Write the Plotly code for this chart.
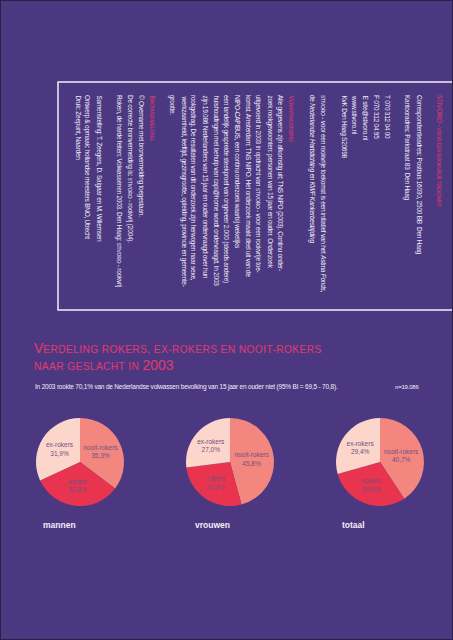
import plotly.graph_objects as go

# ---- data ----
categories = ["nooit-rokers", "rokers", "ex-rokers"]
mannen = [35.3, 32.8, 31.9]
vrouwen = [45.8, 27.2, 27.0]
totaal = [40.7, 29.9, 29.4]
group_names = ["mannen", "vrouwen", "totaal"]
slice_colors = ["#f3877f", "#e8344f", "#fcd6cb"]

W, H = 453, 640
BG = "#4c3881"
PINK = "#e3396e"
TXT = "#f3ecf7"
FONT = "Liberation Sans, Arial, sans-serif"


def px(x):
    return x / W


def py(y):
    return 1 - y / H


def sc(s, size):
    return '<span style="font-size:%spx">%s</span>' % (size, s)


def tight(s, ls=-0.25):
    return '<span style="letter-spacing:%spx">%s</span>' % (ls, s)


fig = go.Figure()

series = [mannen, vrouwen, totaal]
centers = [80, 230, 380]
cy, r = 462, 44
for name, vals, cx in zip(group_names, series, centers):
    fig.add_trace(go.Pie(
        labels=categories, values=vals, sort=False, direction="clockwise",
        rotation=0,
        marker=dict(colors=slice_colors, line=dict(width=0)),
        texttemplate="%{label}<br>%{value:.1f}%",
        textposition="inside", insidetextorientation="horizontal",
        textfont=dict(size=6.5, color="#6f527f", family=FONT),
        domain=dict(x=[px(cx - r), px(cx + r)], y=[py(cy + r), py(cy - r)]),
        showlegend=False, hoverinfo="label+percent", name=name,
    ))

ann = []
S = 5
lines = [
    (439, "STIVORO - " + sc("VOOR EEN ROOKVRIJE TOEKOMST", S), PINK),
    (419, "Correspondentieadres: Postbus 16030, 2500 BB  Den Haag", TXT),
    (407, "Kantooradres: Parkstraat 83  Den Haag", TXT),
    (387, "T 070 312 04 00", TXT),
    (376, "F 070 312 04 95", TXT),
    (365, "E site@stivoro.nl", TXT),
    (354, "www.stivoro.nl", TXT),
    (343, "KvK Den Haag S20698", TXT),
    (323, sc("STIVORO", S) + " - voor een rookvrije toekomst is een initiatief van het <i>Astma Fonds</i>,", TXT),
    (312, "de <i>Nederlandse Hartstichting</i> en <i>KWF Kankerbestrijding</i>", TXT),
    (291, "V" + sc("ERANTWOORDING", S), PINK),
    (280, "Alle gegevens zijn afkomstig uit: TNS NIPO (2003). Continu onder-", TXT),
    (269, "zoek rookgewoonten: personen van 15 jaar en ouder. Onderzoek", TXT),
    (258, "uitgevoerd in 2003 in opdracht van " + sc("STIVORO", S) + " - voor een rookvrije toe-", TXT),
    (248, "komst. Amsterdam: TNS NIPO. Het onderzoek maakt deel uit van de", TXT),
    (237, "NIPO-CAPIBUS, een continu onderzoek waarbij wekelijks", TXT),
    (226, "een landelijk gespreide steekproef van ongeveer 2.000 (steeds andere)", TXT),
    (215, "huishoudingen met behulp van capi@home wordt ondervraagd. In 2003", TXT),
    (204, "zijn 19.086 Nederlanders van 15 jaar en ouder ondervraagd over hun", TXT),
    (193, "rookgedrag. De resultaten van dit onderzoek zijn herwogen naar sexe,", TXT),
    (183, "werkzaamheid, leeftijd, gezinsgrootte, opleiding, provincie en gemeente-", TXT),
    (172, "grootte.", TXT),
    (152, "B" + sc("RONVERMELDING", S), PINK),
    (141, "© Overname met bronvermelding toegestaan.", TXT),
    (130, "De correcte bronvermelding is: " + sc("STIVORO", S) + " - rookvrij (2004).", TXT),
    (119, "Roken, de harde feiten: Volwassenen 2003. Den Haag: " + sc("STIVORO", S) + " - rookvrij", TXT),
    (98, "Samenstelling: T. Zeegers, D. Saigaar en M. Willemsen", TXT),
    (87, "Ontwerp &amp; opmaak: hollandse meesters BNO, Utrecht", TXT),
    (77, "Druk: Zeepunt, Naarden", TXT),
]
for x, t, c in lines:
    ann.append(dict(x=px(x), y=py(93), xref="paper", yref="paper", text=tight(t),
                    textangle=90, xanchor="center", yanchor="top", showarrow=False,
                    font=dict(size=6.5, color=c, family=FONT)))

# title
ann.append(dict(x=px(32), y=py(348), xref="paper", yref="paper",
                text="V" + sc(tight("ERDELING ROKERS, EX-ROKERS EN NOOIT-ROKERS", 0.4), 10.2),
                xanchor="left", yanchor="middle", showarrow=False,
                font=dict(size=14, color=PINK, family=FONT)))
ann.append(dict(x=px(32), y=py(365), xref="paper", yref="paper",
                text=sc(tight("NAAR GESLACHT IN ", 0.4), 10.2) + "2003",
                xanchor="left", yanchor="middle", showarrow=False,
                font=dict(size=14, color=PINK, family=FONT)))
# subtitle
ann.append(dict(x=px(33), y=py(387), xref="paper", yref="paper",
                text=tight("In 2003 rookte 70,1% van de Nederlandse volwassen bevolking van 15 jaar en ouder niet (95% BI = 69,5 - 70,8).", -0.2),
                xanchor="left", yanchor="middle", showarrow=False,
                font=dict(size=6.5, color=TXT, family=FONT)))
ann.append(dict(x=px(421), y=py(387), xref="paper", yref="paper", text=tight("n=19.086", -0.2),
                xanchor="right", yanchor="middle", showarrow=False,
                font=dict(size=6, color=TXT, family=FONT)))
# group labels
for name, x in zip(group_names, [41, 193, 340]):
    ann.append(dict(x=px(x), y=py(525), xref="paper", yref="paper",
                    text="<b>%s</b>" % name, xanchor="left", yanchor="middle",
                    showarrow=False, font=dict(size=8.5, color=TXT, family=FONT)))

shapes = [
    dict(type="rect", xref="paper", yref="paper", x0=px(58), x1=px(460), y0=py(310), y1=py(82),
         line=dict(color="#f3ecf7", width=1.5)),
    dict(type="rect", xref="paper", yref="paper", x0=0, x1=1, y0=0, y1=1,
         line=dict(color="#2a1f48", width=2)),
]

fig.update_layout(
    width=W, height=H, margin=dict(l=0, r=0, t=0, b=0),
    paper_bgcolor=BG, plot_bgcolor=BG, separators=",.",
    annotations=ann, shapes=shapes, showlegend=False,
)
fig.write_html("out.html")
